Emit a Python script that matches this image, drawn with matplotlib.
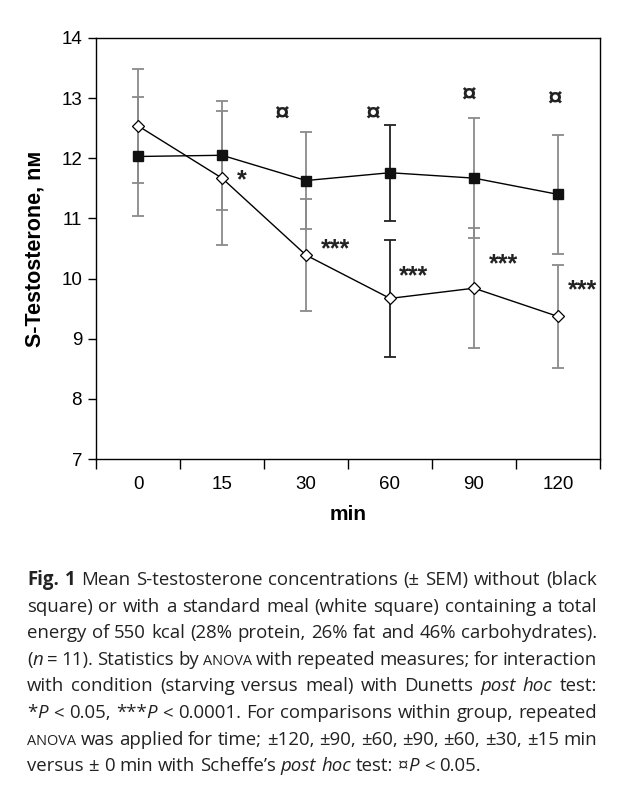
import re
import matplotlib
matplotlib.use('Agg')
import matplotlib.pyplot as plt

# ---------------- data ----------------
categories = ['0', '15', '30', '60', '90', '120']
starving_mean = [12.03, 12.05, 11.63, 11.76, 11.67, 11.40]
starving_sem = [0.99, 0.91, 0.80, 0.80, 1.00, 0.99]
meal_mean = [12.54, 11.67, 10.39, 9.67, 9.84, 9.37]
meal_sem = [0.95, 1.12, 0.93, 0.97, 1.00, 0.86]

star_text = ['*', '***', '***', '***', '***']
star_x = [1.23, 2.35, 3.28, 4.35, 5.29]
star_y = [11.64, 10.49, 10.04, 10.23, 9.80]

cur_x = [1.71, 2.79, 3.94, 4.96]
cur_y = [12.73, 12.73, 13.05, 12.98]

caption_lines = [
    "{b:Fig.} {b:1} Mean S-testosterone concentrations (± SEM) without (black",
    "square) or with a standard meal (white square) containing a total",
    "energy of 550 kcal (28% protein, 26% fat and 46% carbohydrates).",
    "({i:n} = 11). Statistics by {s:ANOVA} with repeated measures; for interaction",
    "with condition (starving versus meal) with Dunetts {i:post} {i:hoc} test:",
    "*{i:P} < 0.05,  ***{i:P} < 0.0001. For comparisons within group, repeated",
    "{s:ANOVA} was applied for time; ±120, ±90, ±60, ±90, ±60, ±30, ±15 min",
    "versus ± 0 min with Scheffe’s {i:post} {i:hoc} test: ¤{i:P} < 0.05.",
]

# ---------------- figure ----------------
W, H = 625, 785
fig = plt.figure(figsize=(W / 100, H / 100), dpi=100)
fig.patch.set_facecolor('white')
chart_font = ['Liberation Sans', 'DejaVu Sans']

ax = fig.add_axes([96 / W, 1 - 459 / H, (600 - 96) / W, (459 - 38) / H])
x = list(range(len(categories)))

bar_colors = ['#8a8a8a', '#8a8a8a', '#8a8a8a', '#222222', '#8a8a8a', '#8a8a8a']
for i in x:
    ax.errorbar(x[i], starving_mean[i], yerr=starving_sem[i], fmt='none',
                ecolor=bar_colors[i], elinewidth=1.3, capsize=4.5, capthick=1.3, zorder=2)
    ax.errorbar(x[i], meal_mean[i], yerr=meal_sem[i], fmt='none',
                ecolor=bar_colors[i], elinewidth=1.3, capsize=4.5, capthick=1.3, zorder=2)

ax.plot(x, starving_mean, color='black', lw=1.0, marker='s', ms=7,
        mfc='#111111', mec='#111111', zorder=3)
ax.plot(x, meal_mean, color='black', lw=1.0, marker='D', ms=6,
        mfc='white', mec='black', mew=0.9, zorder=4)

for t, sx, sy in zip(star_text, star_x, star_y):
    ax.text(sx, sy, t, ha='center', va='center', fontsize=18,
            family=chart_font, fontweight='bold', color='#222222')
for cx, cy in zip(cur_x, cur_y):
    ax.text(cx, cy, '¤', ha='center', va='center', fontsize=19,
            family=chart_font, fontweight='bold', color='#222222')

ax.set_xlim(-0.5, len(categories) - 0.5)
ax.set_ylim(7, 14)
ax.set_yticks(range(7, 15))
ax.set_yticklabels([str(v) for v in range(7, 15)], family=chart_font, fontsize=13.5)
ax.set_xticks(x)
ax.set_xticklabels(categories, family=chart_font, fontsize=13.5)
ax.set_xticks([i - 0.5 for i in range(len(categories) + 1)], minor=True)
ax.tick_params(axis='x', which='major', length=0, pad=12)
ax.tick_params(axis='x', which='minor', length=7, width=1, direction='out')
ax.tick_params(axis='y', length=6, width=1, direction='out', pad=4)
for s in ax.spines.values():
    s.set_linewidth(1.0)
ax.set_xlabel('min', family=chart_font, fontsize=15, fontweight='bold', labelpad=9)
ax.set_ylabel('S-Testosterone, nᴍ', family=chart_font, fontsize=15.5,
              fontweight='bold', labelpad=11)

# ---------------- justified caption ----------------
cap_family = ['Open Sans', 'DejaVu Sans']
base_size = 13.4
left_px, right_px = 27, 597
first_base = 585
line_gap = 26.6

fig.canvas.draw()
renderer = fig.canvas.get_renderer()


def parse_word(word):
    segs = []
    pos = 0
    for m in re.finditer(r'\{([bis]):([^}]*)\}', word):
        if m.start() > pos:
            segs.append(('r', word[pos:m.start()]))
        segs.append((m.group(1), m.group(2)))
        pos = m.end()
    if pos < len(word):
        segs.append(('r', word[pos:]))
    return segs


def seg_props(kind):
    if kind == 'b':
        return dict(fontweight='bold', fontstyle='normal', fontsize=base_size)
    if kind == 'i':
        return dict(fontweight='normal', fontstyle='italic', fontsize=base_size)
    if kind == 's':
        return dict(fontweight='normal', fontstyle='normal', fontsize=base_size * 0.78)
    return dict(fontweight='normal', fontstyle='normal', fontsize=base_size)


def make(txt, kind, xp, yp):
    return fig.text(xp / W, 1 - yp / H, txt, family=cap_family, va='baseline',
                    ha='left', color='#222222', **seg_props(kind))


for li, line in enumerate(caption_lines):
    yb = first_base + li * line_gap
    words = [w for w in line.split(' ') if w != '']
    items = []
    total = 0.0
    for w in words:
        segs = parse_word(w)
        parts = []
        wsum = 0.0
        for kind, txt in segs:
            t = make(txt, kind, 0, yb)
            bb = t.get_window_extent(renderer)
            parts.append((t, bb.width))
            wsum += bb.width
        items.append((parts, wsum))
        total += wsum
    last = li == len(caption_lines) - 1
    space_t = make('a a', 'r', 0, yb)
    aa = make('aa', 'r', 0, yb)
    sp = space_t.get_window_extent(renderer).width - aa.get_window_extent(renderer).width
    space_t.remove()
    aa.remove()
    if last or len(items) < 2:
        gap = sp
    else:
        gap = (right_px - left_px - total) / (len(items) - 1)
    xc = left_px
    for parts, wsum in items:
        xx = xc
        for t, wd in parts:
            t.set_position((xx / W, 1 - yb / H))
            xx += wd
        xc += wsum + gap

fig.savefig('out.png', dpi=100, facecolor='white')
